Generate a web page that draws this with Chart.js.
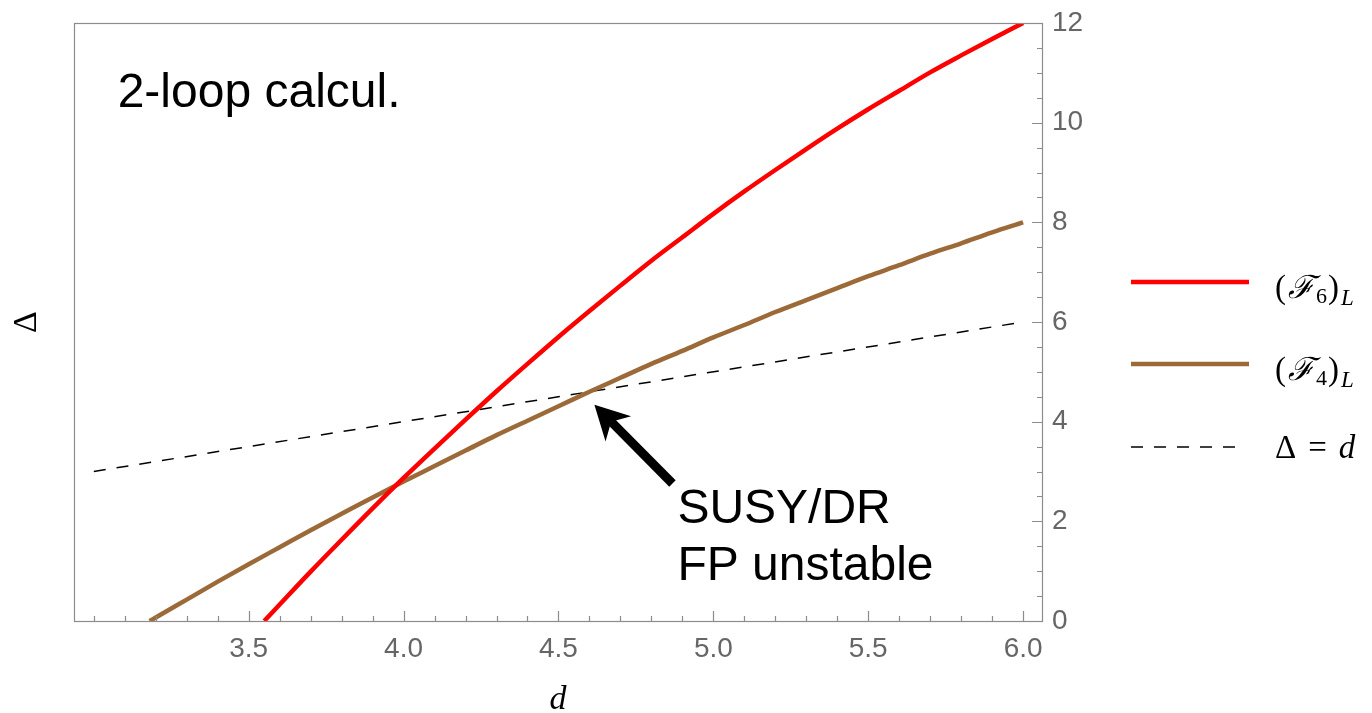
<!DOCTYPE html>
<html>
<head>
<meta charset="utf-8">
<script src="https://cdn.jsdelivr.net/npm/chart.js@4.4.0/dist/chart.umd.min.js"></script>
<style>
  html, body { margin: 0; padding: 0; background: #fff; }
  canvas { display: block; }
</style>
</head>
<body>
<canvas id="deltaChart" width="1372" height="713"></canvas>
<script>
// values
const redD = [3.55, 3.6, 3.7, 3.8, 3.9, 4.0, 4.1, 4.2, 4.3, 4.4, 4.5, 4.6, 4.7, 4.8, 4.9, 5.0, 5.1, 5.2, 5.3, 5.4, 5.5, 5.6, 5.7, 5.8, 5.9, 6.0];
const redDelta = [0, 0.33, 0.99, 1.63, 2.26, 2.87, 3.46, 4.04, 4.61, 5.16, 5.70, 6.22, 6.73, 7.23, 7.70, 8.17, 8.62, 9.05, 9.47, 9.88, 10.27, 10.64, 11.01, 11.35, 11.68, 12.0];
const brownD = [3.18, 3.2, 3.3, 3.4, 3.5, 3.6, 3.7, 3.8, 3.9, 4.0, 4.1, 4.2, 4.3, 4.4, 4.5, 4.6, 4.7, 4.8, 4.9, 5.0, 5.1, 5.2, 5.3, 5.4, 5.5, 5.6, 5.7, 5.8, 5.9, 6.0];
const brownDelta = [0, 0.07, 0.43, 0.79, 1.14, 1.48, 1.82, 2.15, 2.48, 2.80, 3.11, 3.42, 3.73, 4.02, 4.31, 4.60, 4.88, 5.16, 5.42, 5.69, 5.94, 6.20, 6.44, 6.68, 6.92, 7.14, 7.37, 7.58, 7.80, 8.0];
const diagD = [3.0, 6.0];
const diagDelta = [3.0, 6.0];

const xTickLabels = ['3.5', '4.0', '4.5', '5.0', '5.5', '6.0'];
const yTickLabels = ['0', '2', '4', '6', '8', '10', '12'];

const RED = '#ff0000';
const BROWN = '#9c6a38';
const GRAY = '#8c8c8c';
const TICK_FONT = '"Liberation Sans", Arial, sans-serif';
const SERIF = '"Liberation Serif", "DejaVu Serif", serif';

function toPoints(xs, ys) {
    return xs.map((x, i) => ({ x: x, y: ys[i] }));
}

// frame with inward ticks, like the original
const framePlugin = {
    id: 'frameTicks',
    afterDatasetsDraw(chart) {
        const { ctx, chartArea: a, scales } = chart;
        ctx.save();
        ctx.strokeStyle = GRAY;
        ctx.lineWidth = 1.2;
        ctx.strokeRect(a.left + 0.5, a.top + 0.5, a.right - a.left, a.bottom - a.top);
        ctx.beginPath();
        for (let i = 30; i <= 60; i++) {
            const px = Math.round(scales.x.getPixelForValue(i / 10)) + 0.5;
            const len = (i % 5 === 0 && i >= 35) ? 10 : 5;
            ctx.moveTo(px, a.bottom);
            ctx.lineTo(px, a.bottom - len);
        }
        for (let i = 0; i <= 24; i++) {
            const py = Math.round(scales.y.getPixelForValue(i / 2)) + 0.5;
            const len = (i % 4 === 0) ? 10 : 5;
            ctx.moveTo(a.right, py);
            ctx.lineTo(a.right - len, py);
        }
        ctx.stroke();
        ctx.restore();
    }
};

function drawParts(ctx, x, y, parts) {
    parts.forEach(p => {
        ctx.font = p.font;
        ctx.fillText(p.t, x + (p.dx || 0), y + (p.dy || 0));
        x += ctx.measureText(p.t).width + (p.dx || 0);
    });
}

const notesPlugin = {
    id: 'notes',
    afterDraw(chart) {
        const { ctx, chartArea: a, scales } = chart;
        const X = v => scales.x.getPixelForValue(v);
        const Y = v => scales.y.getPixelForValue(v);
        ctx.save();
        ctx.fillStyle = '#000';
        ctx.textBaseline = 'alphabetic';
        ctx.textAlign = 'left';

        ctx.font = '48px ' + TICK_FONT;
        ctx.fillText('2-loop calcul.', X(3.077), Y(10.32));
        ctx.fillText('SUSY/DR', X(4.884), Y(1.96));
        ctx.fillText('FP unstable', X(4.884), Y(0.82));

        // arrow to the SUSY/DR fixed point
        const tx = X(4.616), ty = Y(4.34);
        const sx = X(4.868), sy = Y(2.76);
        const ang = Math.atan2(ty - sy, tx - sx);
        const hl = 34, hw = 18;
        ctx.strokeStyle = '#000';
        ctx.lineWidth = 9;
        ctx.beginPath();
        ctx.moveTo(sx, sy);
        ctx.lineTo(tx - Math.cos(ang) * hl * 0.7, ty - Math.sin(ang) * hl * 0.7);
        ctx.stroke();
        ctx.beginPath();
        ctx.moveTo(tx, ty);
        ctx.lineTo(tx - Math.cos(ang) * hl + Math.sin(ang) * hw, ty - Math.sin(ang) * hl - Math.cos(ang) * hw);
        ctx.lineTo(tx - Math.cos(ang) * hl * 0.7, ty - Math.sin(ang) * hl * 0.7);
        ctx.lineTo(tx - Math.cos(ang) * hl - Math.sin(ang) * hw, ty - Math.sin(ang) * hl + Math.cos(ang) * hw);
        ctx.closePath();
        ctx.fill();

        // axis titles
        ctx.font = 'italic 34px ' + SERIF;
        ctx.textAlign = 'center';
        ctx.fillText('d', (a.left + a.right) / 2, 709);
        ctx.save();
        ctx.translate(36, (a.top + a.bottom) / 2);
        ctx.rotate(-Math.PI / 2);
        ctx.font = '34px ' + SERIF;
        ctx.fillText('Δ', 0, 0);
        ctx.restore();

        // legend
        ctx.textAlign = 'left';
        const lx0 = a.right + 89, lx1 = a.right + 207, tx0 = a.right + 233;
        const rows = [
            { y: a.top + 259, color: RED, dash: [], sub: '6' },
            { y: a.top + 341, color: BROWN, dash: [], sub: '4' },
            { y: a.top + 424, color: '#000', dash: [12, 11], sub: null }
        ];
        rows.forEach(r => {
            ctx.save();
            ctx.strokeStyle = r.color;
            ctx.lineWidth = r.sub ? 4.5 : 1.5;
            ctx.setLineDash(r.dash);
            ctx.beginPath();
            ctx.moveTo(lx0, r.y);
            ctx.lineTo(r.sub ? lx1 : lx1 - 8, r.y);
            ctx.stroke();
            ctx.restore();
            if (r.sub) {
                drawParts(ctx, tx0, r.y + 16, [
                    { t: '(', font: '33px ' + SERIF },
                    { t: 'ℱ', font: 'italic 32px "DejaVu Serif", serif', dx: 2 },
                    { t: r.sub, font: '22px ' + SERIF, dy: 5, dx: 2 },
                    { t: ')', font: '33px ' + SERIF, dx: 1 },
                    { t: 'L', font: 'italic 23px ' + SERIF, dy: 7, dx: 2 }
                ]);
            } else {
                drawParts(ctx, tx0, r.y + 11, [
                    { t: 'Δ', font: '33px ' + SERIF },
                    { t: '=', font: '33px ' + SERIF, dx: 12 },
                    { t: 'd', font: 'italic 33px ' + SERIF, dx: 12 }
                ]);
            }
        });
        ctx.restore();
    }
};

const ctx = document.getElementById('deltaChart').getContext('2d');
const deltaChart = new Chart(ctx, {
    type: 'line',
    data: {
        datasets: [{
            label: '(F6)L',
            data: toPoints(redD, redDelta),
            borderColor: RED,
            borderWidth: 4.5,
            pointRadius: 0,
            cubicInterpolationMode: 'monotone',
            fill: false
        }, {
            label: '(F4)L',
            data: toPoints(brownD, brownDelta),
            borderColor: BROWN,
            borderWidth: 4.5,
            pointRadius: 0,
            cubicInterpolationMode: 'monotone',
            fill: false
        }, {
            label: 'Δ = d',
            data: toPoints(diagD, diagDelta),
            borderColor: '#000',
            borderWidth: 1.5,
            borderDash: [12, 11],
            pointRadius: 0,
            fill: false
        }]
    },
    options: {
        responsive: false,
        animation: false,
        layout: { padding: { left: 74, top: 23, right: 0, bottom: 0 } },
        plugins: {
            legend: { display: false },
            tooltip: { enabled: false }
        },
        scales: {
            x: {
                type: 'linear',
                min: 2.936,
                max: 6.061,
                grid: { display: false, drawTicks: false },
                border: { display: false },
                afterBuildTicks: s => { s.ticks = xTickLabels.map(t => ({ value: parseFloat(t) })); },
                afterFit: s => { s.height = 92; s.paddingLeft = 0; s.paddingRight = 0; },
                ticks: {
                    autoSkip: false,
                    maxRotation: 0,
                    padding: 11,
                    color: '#666',
                    font: { family: TICK_FONT, size: 28 },
                    callback: v => xTickLabels.find(t => Math.abs(parseFloat(t) - v) < 1e-6)
                }
            },
            y: {
                type: 'linear',
                position: 'right',
                min: 0,
                max: 12,
                grid: { display: false, drawTicks: false },
                border: { display: false },
                afterBuildTicks: s => { s.ticks = yTickLabels.map(t => ({ value: parseFloat(t) })); },
                afterFit: s => { s.width = 330; s.paddingTop = 0; s.paddingBottom = 0; },
                ticks: {
                    autoSkip: false,
                    padding: 10,
                    color: '#666',
                    font: { family: TICK_FONT, size: 28 },
                    callback: v => yTickLabels.find(t => Math.abs(parseFloat(t) - v) < 1e-6)
                }
            }
        }
    },
    plugins: [framePlugin, notesPlugin]
});
</script>
</body>
</html>
